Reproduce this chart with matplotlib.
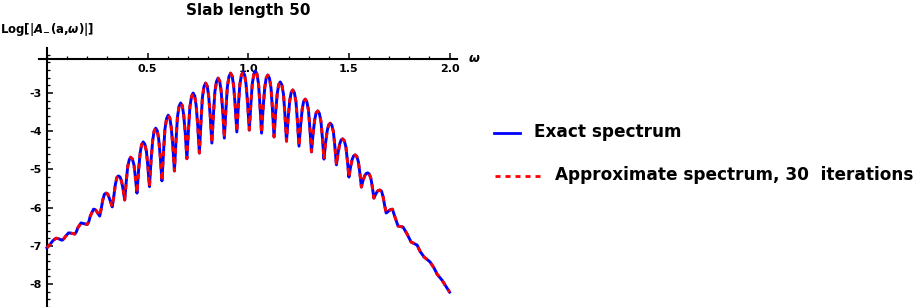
import matplotlib
matplotlib.use('Agg')
import matplotlib.pyplot as plt
from matplotlib.lines import Line2D
from matplotlib.ticker import MultipleLocator

plt.rcParams['font.family'] = ['DejaVu Sans']
plt.rcParams['font.weight'] = 'bold'
plt.rcParams['axes.unicode_minus'] = False
plt.rcParams['mathtext.fontset'] = 'dejavusans'

# values: peak, flanks, trough for each fringe
omega = [
    0.000, 0.015, 0.030,
    0.045, 0.061, 0.068, 0.076, 0.084, 0.092,
    0.107, 0.122, 0.130, 0.138, 0.146, 0.153,
    0.169, 0.184, 0.192, 0.200, 0.208, 0.215,
    0.231, 0.239, 0.246, 0.254, 0.262, 0.270, 0.277, 0.285,
    0.293, 0.301, 0.308, 0.316, 0.324, 0.332, 0.339, 0.347,
    0.355, 0.363, 0.370, 0.378, 0.386, 0.394, 0.401, 0.409,
    0.416, 0.424, 0.432, 0.439, 0.447, 0.455, 0.463, 0.470,
    0.478, 0.486, 0.494, 0.501, 0.509, 0.517, 0.525, 0.532,
    0.540, 0.548, 0.555, 0.563, 0.571, 0.579, 0.586, 0.594,
    0.602, 0.610, 0.617, 0.625, 0.633, 0.641, 0.648, 0.656,
    0.664, 0.672, 0.679, 0.687, 0.695, 0.703, 0.710, 0.718,
    0.726, 0.734, 0.741, 0.749, 0.757, 0.765, 0.772, 0.780,
    0.788, 0.796, 0.803, 0.811, 0.819, 0.827, 0.834, 0.842,
    0.850, 0.858, 0.865, 0.873, 0.881, 0.889, 0.896, 0.904,
    0.912, 0.920, 0.927, 0.935, 0.943, 0.951, 0.958, 0.966,
    0.974, 0.982, 0.989, 0.997, 1.005, 1.013, 1.020, 1.028,
    1.035, 1.043, 1.051, 1.058, 1.066, 1.074, 1.082, 1.089,
    1.097, 1.105, 1.113, 1.120, 1.128, 1.136, 1.144, 1.151,
    1.159, 1.167, 1.175, 1.182, 1.190, 1.198, 1.206, 1.213,
    1.221, 1.229, 1.237, 1.244, 1.252, 1.260, 1.268, 1.275,
    1.283, 1.291, 1.299, 1.306, 1.314, 1.322, 1.330, 1.337,
    1.345, 1.353, 1.361, 1.368, 1.376, 1.384, 1.392, 1.399,
    1.407, 1.415, 1.423, 1.430, 1.438, 1.446, 1.454, 1.461,
    1.469, 1.477, 1.485, 1.492, 1.500, 1.508, 1.516, 1.523,
    1.531, 1.539, 1.547, 1.554, 1.562, 1.570, 1.578, 1.585,
    1.593, 1.601, 1.609, 1.616, 1.624, 1.632, 1.640, 1.647,
    1.654, 1.662, 1.670, 1.677, 1.685, 1.693, 1.701, 1.708,
    1.716, 1.729, 1.744, 1.769, 1.789, 1.809, 1.839,
    1.853, 1.873, 1.903, 1.923, 1.938, 1.963, 2.000,
]
log_exact = [
    -7.05, -6.96, -6.86,
    -6.80, -6.82, -6.84, -6.85, -6.81, -6.75,
    -6.66, -6.67, -6.68, -6.69, -6.63, -6.53,
    -6.40, -6.42, -6.43, -6.44, -6.36, -6.22,
    -6.04, -6.05, -6.09, -6.16, -6.22, -6.01, -5.80, -5.65,
    -5.62, -5.64, -5.73, -5.85, -5.98, -5.70, -5.41, -5.21,
    -5.17, -5.20, -5.30, -5.52, -5.80, -5.30, -4.92, -4.74,
    -4.68, -4.73, -4.88, -5.20, -5.62, -5.02, -4.56, -4.35,
    -4.28, -4.34, -4.53, -4.92, -5.45, -4.76, -4.24, -4.00,
    -3.92, -3.99, -4.21, -4.68, -5.30, -4.53, -3.94, -3.67,
    -3.58, -3.65, -3.89, -4.38, -5.04, -4.24, -3.63, -3.35,
    -3.26, -3.33, -3.57, -4.06, -4.72, -3.95, -3.36, -3.09,
    -3.00, -3.08, -3.33, -3.86, -4.57, -3.75, -3.12, -2.83,
    -2.74, -2.82, -3.07, -3.60, -4.31, -3.55, -2.97, -2.70,
    -2.61, -2.69, -2.94, -3.47, -4.18, -3.42, -2.84, -2.57,
    -2.48, -2.56, -2.80, -3.33, -4.02, -3.31, -2.78, -2.53,
    -2.45, -2.53, -2.77, -3.29, -3.97, -3.27, -2.75, -2.50,
    -2.42, -2.50, -2.76, -3.32, -4.05, -3.37, -2.85, -2.61,
    -2.53, -2.61, -2.87, -3.42, -4.15, -3.50, -3.01, -2.78,
    -2.71, -2.79, -3.04, -3.56, -4.26, -3.66, -3.20, -2.99,
    -2.92, -2.99, -3.23, -3.73, -4.39, -3.84, -3.42, -3.22,
    -3.16, -3.23, -3.45, -3.92, -4.54, -4.06, -3.70, -3.52,
    -3.47, -3.53, -3.74, -4.16, -4.73, -4.31, -3.99, -3.84,
    -3.79, -3.84, -4.02, -4.39, -4.88, -4.57, -4.34, -4.23,
    -4.20, -4.25, -4.41, -4.75, -5.20, -4.94, -4.74, -4.65,
    -4.62, -4.66, -4.80, -5.08, -5.46, -5.29, -5.17, -5.11,
    -5.09, -5.12, -5.23, -5.45, -5.75, -5.66, -5.58, -5.55,
    -5.54, -5.57, -5.72, -5.93, -6.14, -6.11, -6.07, -6.05,
    -6.04, -6.25, -6.48, -6.51, -6.69, -6.90, -6.98,
    -7.14, -7.29, -7.42, -7.58, -7.74, -7.90, -8.21,
]
# 30 iterations: the approximation sits on top of the exact curve
log_approx = list(log_exact)

x_ticks = [0.5, 1.0, 1.5, 2.0]
y_ticks = [-8, -7, -6, -5, -4, -3]

W, H = 923, 307
fig = plt.figure(figsize=(W / 100, H / 100), dpi=100)
ax = fig.add_axes([39 / W, 0, (457 - 39) / W, 1 - 48 / H])

ax.plot(omega, log_exact, color='blue', lw=2.1, zorder=3,
        solid_joinstyle='round')
ax.plot(omega, log_approx, color='red', lw=2.1, dashes=(1.8, 1.8), zorder=4,
        dash_joinstyle='round')

ax.set_xlim(-0.0398, 2.037)
ax.set_ylim(-8.60, -1.822)

for s in ['top', 'right']:
    ax.spines[s].set_visible(False)
ax.spines['left'].set_position(('data', 0))
ax.spines['bottom'].set_position(('data', -2.1))
ax.spines['left'].set_linewidth(1.5)
ax.spines['bottom'].set_linewidth(1.5)

ax.set_xticks(x_ticks)
ax.set_xticklabels(['%.1f' % v for v in x_ticks])
ax.set_yticks(y_ticks)
ax.set_yticklabels(['%d' % v for v in y_ticks])
ax.xaxis.set_minor_locator(MultipleLocator(0.1))
ax.yaxis.set_minor_locator(MultipleLocator(0.2))
ax.tick_params(which='major', direction='in', length=4.5, width=1.1,
               labelsize=8, pad=4)
ax.tick_params(which='minor', direction='in', length=2.2, width=0.9)
ax.patch.set_alpha(0)

fig.text(248 / W, 1 - 11 / H, 'Slab length 50', ha='center', va='center',
         fontsize=11, weight='bold')
fig.text(0.0, 1 - 29 / H, r'Log[|$\boldsymbol{A}_{\mathbf{-}}$(a,$\boldsymbol{\omega}$)|]',
         ha='left', va='center', fontsize=8.5, weight='bold')
fig.text(474 / W, 1 - 58 / H, r'$\boldsymbol{\omega}$', ha='center', va='center',
         fontsize=9)

# legend drawn by hand, the two keys have different lengths
fig.add_artist(Line2D([494 / W, 520 / W], [1 - 133 / H, 1 - 133 / H],
                      color='blue', lw=2.0))
fig.add_artist(Line2D([495 / W, 543 / W], [1 - 176 / H, 1 - 176 / H],
                      color='red', lw=2.0, dashes=(1.8, 1.8)))
fig.text(534 / W, 1 - 132 / H, 'Exact spectrum', ha='left', va='center',
         fontsize=12.2, weight='bold')
fig.text(555 / W, 1 - 175 / H, 'Approximate spectrum, 30  iterations',
         ha='left', va='center', fontsize=12.2, weight='bold')

fig.savefig('out.png', dpi=100)
